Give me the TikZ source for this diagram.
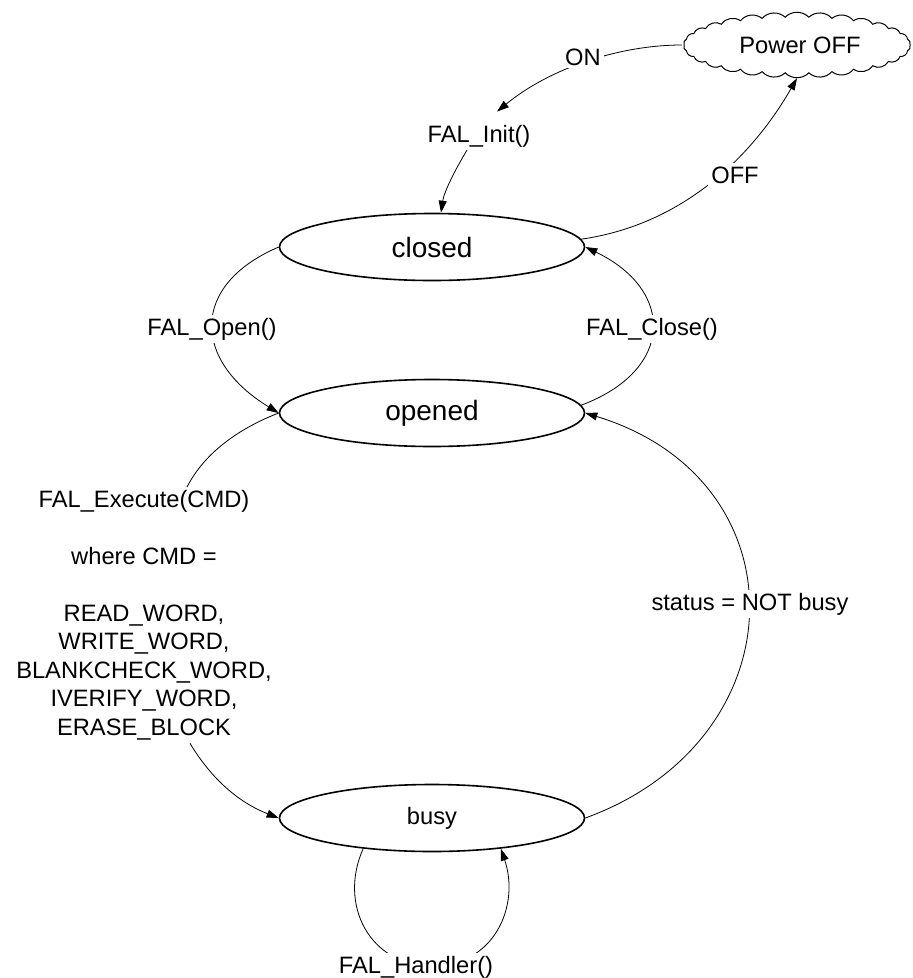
\documentclass[tikz,border=0pt]{standalone}
\usepackage{fontspec}
\setmainfont{Liberation Sans}
\usetikzlibrary{shapes.geometric,arrows.meta}
\begin{document}
\begin{tikzpicture}[x=1pt,y=1pt,
  state/.style={ellipse, draw, line width=1.6pt, minimum width=305pt, minimum height=67pt, inner sep=0pt},
  bigfont/.style={font=\fontsize{28}{33}\selectfont},
  lblfont/.style={font=\fontsize{23.7}{28.5}\selectfont},
  lbl/.style={lblfont, fill=white, inner sep=3pt, anchor=base},
  conn/.style={line width=0.8pt},
  arr/.style={conn, -{Triangle[length=12pt,width=8pt]}},
  puff/.style={line width=1pt},
]
\useasboundingbox (0,0) rectangle (913,-978);

% states
\node[state, bigfont] (closed) at (432,-247) {closed};
\node[state, bigfont] (opened) at (432,-413) {opened};
\node[state, lblfont] (busy) at (432,-818) {busy};
% cloud outline of the Power OFF node
\draw[puff] (910,-45)
  \foreach \i in {1,...,30} { to[bend right=45] ({797+113*cos(\i*12)},{-45+28*sin(\i*12)}) } -- cycle;
\node[ellipse, minimum width=230pt, minimum height=66pt, inner sep=0pt, lblfont] (off) at (797,-45) {\hspace*{6pt}Power OFF};

% intermediate text nodes
\node[lblfont, inner sep=3pt, anchor=base] (init) at (479,-142) {FAL\_Init()};
\node[lblfont, inner sep=3pt, anchor=north, align=center] (exec) at (144,-487)
  {FAL\_Execute(CMD)\\[28.5pt]where CMD =\\[28.5pt]READ\_WORD,\\WRITE\_WORD,\\BLANKCHECK\_WORD,\\IVERIFY\_WORD,\\ERASE\_BLOCK};

% connectors
\draw[arr] (off.west) .. controls (620,-45) and (550,-68) .. ([xshift=18pt,yshift=10pt]init.north);
\draw[arr] ([xshift=-12pt]init.south) .. controls (455,-170) and (444,-192) .. ([xshift=9pt]closed.north);
\draw[arr] (closed.3) .. controls (680,-225) and (750,-160) .. (off.south);
\draw[arr] (closed.west) .. controls (190,-285) and (192,-360) .. (opened.west);
\draw[arr] (opened.3) .. controls (675,-370) and (675,-290) .. (closed.east);
\draw[conn] (opened.west) .. controls (240,-428) and (205,-452) .. ([xshift=43pt]exec.north);
\draw[arr] ([xshift=46pt]exec.south) .. controls (215,-785) and (245,-805) .. (busy.west);
\draw[arr] (busy.east) .. controls (800,-740) and (805,-480) .. (opened.east);
\draw[arr] (busy.204) .. controls (338,-905) and (370,-966) .. (432,-966)
                    .. controls (495,-966) and (520,-905) .. (busy.336);

% labels on connectors
\node[lbl] (lon) at (583,-65) {ON};
\node[lbl] (loff) at (735,-183) {OFF};
\node[lbl] (lopen) at (212,-335) {FAL\_Open()};
\node[lbl] (lclose) at (652,-335) {FAL\_Close()};
\node[lbl] (lstatus) at (750,-610) {status = NOT busy};
\node[lbl] (lhandler) at (416,-973) {FAL\_Handler()};
\end{tikzpicture}
\end{document}
